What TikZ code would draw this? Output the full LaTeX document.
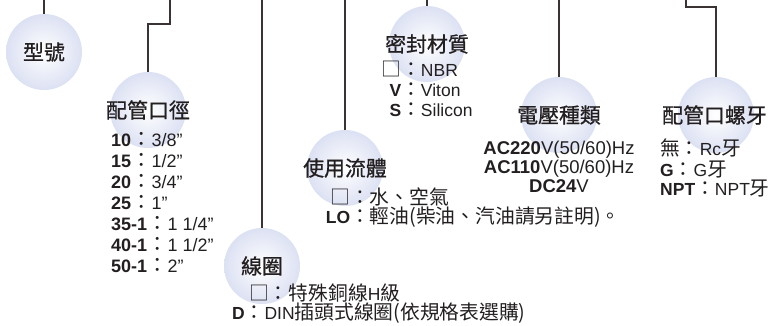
\documentclass[tikz,border=0pt]{standalone}
\usepackage{fontspec}
\setmainfont{Liberation Sans}
\newfontfamily\cjk[Scale=1.13]{Noto Sans CJK TC}
\newfontfamily\cjkhead[Scale=1.13, FakeBold=0.8]{Noto Sans CJK TC}
\usetikzlibrary{positioning}

\definecolor{ink}{HTML}{231F20}
\definecolor{wirecol}{HTML}{3A3233}
\definecolor{ballrim}{HTML}{DCE1F3}

\newcommand\zh[1]{{\cjk #1}}
\newcommand\cl{\zh{：}}
\newcommand\keyr[2]{\makebox[#1pt][r]{#2}}

\tikzset{
  ball/.style={circle, minimum size=76pt, inner sep=0pt,
    shading=radial, inner color=white, outer color=ballrim},
  wire/.style={draw=wirecol, line width=1.3pt},
  head/.style={font=\cjkhead\fontsize{18.5}{18.5}\selectfont, text=ink, inner sep=0pt},
  opts/.style={font=\fontsize{17.5}{#1}\selectfont, text=ink, inner sep=0pt,
    align=left, anchor=base west},
}

\begin{document}
\begin{tikzpicture}[x=1pt, y=-1pt]
  \useasboundingbox (0,0) rectangle (774,326);

  % balls
  \node[ball] (xinghao) at (44,52) {};
  \node[ball] (koujing) at (148,110) {};
  \node[ball] (xianquan) at (262,266) {};
  \node[ball] (liuti) at (345,168) {};
  \node[ball] (mifeng) at (427,44) {};
  \node[ball] (dianya) at (559,115) {};
  \node[ball] (luoya) at (716,115) {};

  % lines from the top
  \coordinate (t1) at (44,0);
  \coordinate (t2) at (170,0);
  \coordinate (t3) at (262,0);
  \coordinate (t4) at (345,0);
  \coordinate (t5) at (427,0);
  \coordinate (t6) at (559,0);
  \coordinate (t7) at (686,0);
  \draw[wire] (t1) -- (xinghao.north);
  \draw[wire] (t2) -- ++(0,24) -| (koujing.north);
  \draw[wire] (t3) -- (xianquan.north);
  \draw[wire] (t4) -- (liuti.north);
  \draw[wire] (t5) -- (mifeng.north);
  \draw[wire] (t6) -- (dianya.north);
  \draw[wire] (t7) -- ++(0,7) -| (luoya.north);

  % headings
  \node[head] (h1) at (xinghao) {型號};
  \node[head] (h2) at (koujing) {配管口徑};
  \node[head] (h3) at (xianquan) {線圈};
  \node[head] (h4) at (liuti.center) {使用流體};
  \node[head] (h5) at (mifeng.center) {密封材質};
  \node[head] (h6) at (dianya.center) {電壓種類};
  \node[head] (h7) at (714.5,115) {配管口螺牙};

  % option lists (anchored on the last line)
  \node[opts=21, font=\fontsize{18}{21}\selectfont] (l2) at (111,272) {%
    \textbf{10}\cl 3/8"\\ \textbf{15}\cl 1/2"\\ \textbf{20}\cl 3/4"\\
    \textbf{25}\cl 1"\\ \textbf{35-1}\cl 1 1/4"\\ \textbf{40-1}\cl 1 1/2"\\
    \textbf{50-1}\cl 2"};
  \node[opts=19] (l3) at (232,319) {%
    \hspace*{17pt}\zh{□}\cl\zh{特殊銅線}H\zh{級}\\
    \textbf{D}\cl DIN\zh{插頭式線圈(依規格表選購)}};
  \node[opts=19] (l4) at (331,223) {%
    \keyr{19}{\zh{□}}\cl\zh{水、空氣}\\
    \keyr{19}{\textbf{LO}}\cl\zh{輕油(柴油、汽油請另註明)。}};
  \node[opts=20] (l5) at (385,117) {%
    \keyr{16}{\zh{□}}\cl NBR\\ \keyr{16}{\textbf{V}}\cl Viton\\
    \keyr{16}{\textbf{S}}\cl Silicon};
  \node[opts=19.5, font=\fontsize{18.5}{19.5}\selectfont, align=center,
    anchor=base] (l6) at (559,193) {%
    \textbf{AC220}V(50/60)Hz\\ \textbf{AC110}V(50/60)Hz\\ \textbf{DC24}V};
  \node[opts=20] (l7) at (660,196) {%
    \zh{無}\cl Rc\zh{牙}\\ \textbf{G}\cl G\zh{牙}\\ \textbf{NPT}\cl NPT\zh{牙}};
\end{tikzpicture}
\end{document}
